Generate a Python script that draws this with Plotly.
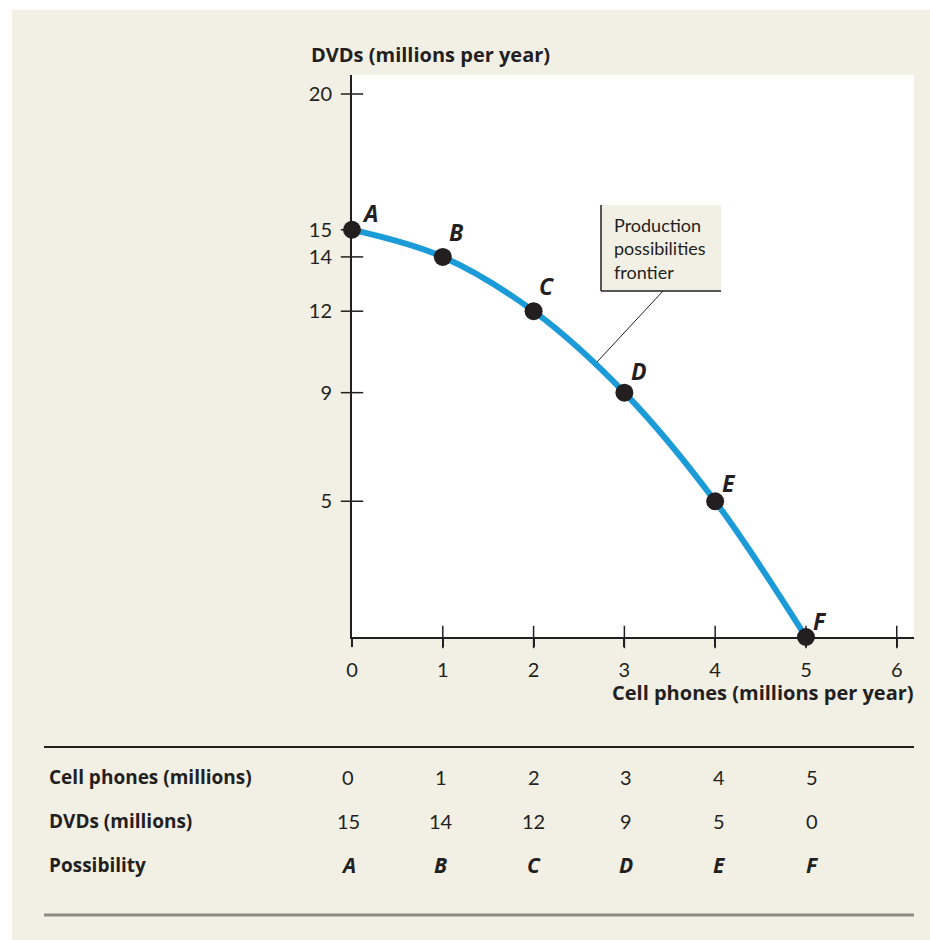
import plotly.graph_objects as go

# ---- data ----
cell_phones = [0, 1, 2, 3, 4, 5]
dvds = [15, 14, 12, 9, 5, 0]
possibility = ["A", "B", "C", "D", "E", "F"]
x_ticks = [0, 1, 2, 3, 4, 5, 6]
y_ticks = [5, 9, 12, 14, 15, 20]
y_tick_text = ["5", "9", "12", "14", "15", "20"]
row_labels = ["Cell phones (millions)", "DVDs (millions)", "Possibility"]
callout_text = "Production<br>possibilities<br>frontier"

# ---- layout geometry ----
W, H = 930, 940
L, R, T, B = 352, 16, 75, 303
PW, PH = W - L - R, H - T - B
X_MAX = 6.19
Y_MAX = 20.7
TABLE_COL0, TABLE_STEP = 348, 92.8


def px(xpix):
    return (xpix - L) / PW


def py(ypix):
    return (H - B - ypix) / PH


def dx(xpix):
    return (xpix - L) / PW * X_MAX


def dy(ypix):
    return (H - B - ypix) / PH * Y_MAX


INK = "#231f20"
BEIGE = "#f2efe5"
BLUE = "#1b9bd8"
FONT = "Lato"
BOLDFONT = "Open Sans"

fig = go.Figure()

# crossing tick marks (drawn from the tick arrays)
fig.add_trace(go.Scatter(
    x=x_ticks[1:], y=[0] * (len(x_ticks) - 1), mode="markers",
    marker=dict(symbol="line-ns", size=16, line=dict(color=INK, width=1.5)),
    cliponaxis=False, hoverinfo="skip", showlegend=False))
fig.add_trace(go.Scatter(
    x=[0] * len(y_ticks), y=y_ticks, mode="markers",
    marker=dict(symbol="line-ew", size=16, line=dict(color=INK, width=1.5)),
    cliponaxis=False, hoverinfo="skip", showlegend=False))

# frontier curve
fig.add_trace(go.Scatter(
    x=cell_phones, y=dvds, mode="lines",
    line=dict(color=BLUE, width=6, shape="spline", smoothing=1.0),
    cliponaxis=False, hoverinfo="skip", showlegend=False))

# points
fig.add_trace(go.Scatter(
    x=cell_phones, y=dvds, mode="markers",
    marker=dict(color=INK, size=18),
    cliponaxis=False, hoverinfo="skip", showlegend=False))

shapes = []
annotations = []

# white strips outside the beige panel
shapes.append(dict(type="rect", xref="paper", yref="paper",
                   x0=px(0), x1=px(W), y0=py(0), y1=py(10),
                   fillcolor="white", line=dict(width=0), layer="below"))
shapes.append(dict(type="rect", xref="paper", yref="paper",
                   x0=px(0), x1=px(12), y0=py(0), y1=py(H),
                   fillcolor="white", line=dict(width=0), layer="below"))

# point labels
label_shift = [(18, 17), (14, 25), (13, 25), (15, 22), (14, 18), (14, 16)]
for xv, yv, lab, (sx, sy) in zip(cell_phones, dvds, possibility, label_shift):
    annotations.append(dict(
        x=xv, y=yv, xref="x", yref="y", text=lab, showarrow=False,
        xshift=sx, yshift=sy,
        font=dict(family=BOLDFONT, size=23, color=INK, weight="bold", style="italic")))

# callout box
bx0, bx1, by0, by1 = dx(601), dx(721), dy(291), dy(205)
shapes.append(dict(type="rect", xref="x", yref="y", x0=bx0, x1=bx1, y0=by0, y1=by1,
                   fillcolor=BEIGE, line=dict(width=0)))
shapes.append(dict(type="line", xref="x", yref="y", x0=bx0, x1=bx0, y0=by0, y1=by1,
                   line=dict(color=INK, width=1.5)))
shapes.append(dict(type="line", xref="x", yref="y", x0=bx0, x1=bx1, y0=by0, y1=by0,
                   line=dict(color=INK, width=1.5)))
shapes.append(dict(type="line", xref="x", yref="y", x0=dx(663), x1=dx(597),
                   y0=by0, y1=dy(362), line=dict(color=INK, width=1)))
annotations.append(dict(
    x=dx(612), y=dy(248), xref="x", yref="y", text=callout_text, showarrow=False,
    xanchor="left", yanchor="middle", align="left",
    font=dict(family=FONT, size=18, color=INK)))

# axis titles
annotations.append(dict(
    x=px(309), y=py(55), xref="paper", yref="paper", text="DVDs (millions per year)",
    showarrow=False, xanchor="left", yanchor="middle",
    font=dict(family=BOLDFONT, size=20, color=INK, weight="bold")))
annotations.append(dict(
    x=px(916), y=py(692), xref="paper", yref="paper",
    text="Cell phones (millions per year)",
    showarrow=False, xanchor="right", yanchor="middle",
    font=dict(family=BOLDFONT, size=20, color=INK, weight="bold")))

# table
shapes.append(dict(type="line", xref="paper", yref="paper", x0=px(44), x1=px(914),
                   y0=py(747), y1=py(747), line=dict(color=INK, width=2)))
shapes.append(dict(type="line", xref="paper", yref="paper", x0=px(44), x1=px(914),
                   y0=py(915), y1=py(915), line=dict(color="#8c8b88", width=3)))
row_y = [py(777), py(821), py(865)]
for lab, yy in zip(row_labels, row_y):
    annotations.append(dict(
        x=px(47), y=yy, xref="paper", yref="paper", text=lab, showarrow=False,
        xanchor="left", yanchor="middle",
        font=dict(family=BOLDFONT, size=19, color=INK, weight="bold")))
for i, (xv, dv, pv) in enumerate(zip(cell_phones, dvds, possibility)):
    cx = px(TABLE_COL0 + TABLE_STEP * i)
    annotations.append(dict(x=cx, y=row_y[0], xref="paper", yref="paper", text=str(xv),
                            showarrow=False, xanchor="center", yanchor="middle",
                            font=dict(family=FONT, size=20, color=INK)))
    annotations.append(dict(x=cx, y=row_y[1], xref="paper", yref="paper", text=str(dv),
                            showarrow=False, xanchor="center", yanchor="middle",
                            font=dict(family=FONT, size=20, color=INK)))
    annotations.append(dict(x=cx, y=row_y[2], xref="paper", yref="paper", text=pv,
                            showarrow=False, xanchor="center", yanchor="middle",
                            font=dict(family=BOLDFONT, size=21, color=INK,
                                      weight="bold", style="italic")))

fig.update_layout(
    width=W, height=H,
    margin=dict(l=L, r=R, t=T, b=B),
    paper_bgcolor=BEIGE, plot_bgcolor="white",
    shapes=shapes, annotations=annotations,
    showlegend=False,
    xaxis=dict(range=[0, X_MAX], tickvals=x_ticks, ticktext=[str(v) for v in x_ticks],
               ticks="outside", ticklen=8, tickwidth=1.5, tickcolor=INK,
               showline=True, linecolor=INK, linewidth=2, showgrid=False, zeroline=False,
               ticklabelstandoff=6,
               tickfont=dict(family=FONT, size=20, color=INK), fixedrange=True),
    yaxis=dict(range=[0, Y_MAX], tickvals=y_ticks, ticktext=y_tick_text,
               ticks="", showline=True, linecolor=INK, linewidth=2, showgrid=False,
               zeroline=False, ticklabelstandoff=14,
               tickfont=dict(family=FONT, size=20, color=INK), fixedrange=True),
)

fig.write_html("out.html", config={"displayModeBar": False},
               post_script="document.body.style.margin='0';")
